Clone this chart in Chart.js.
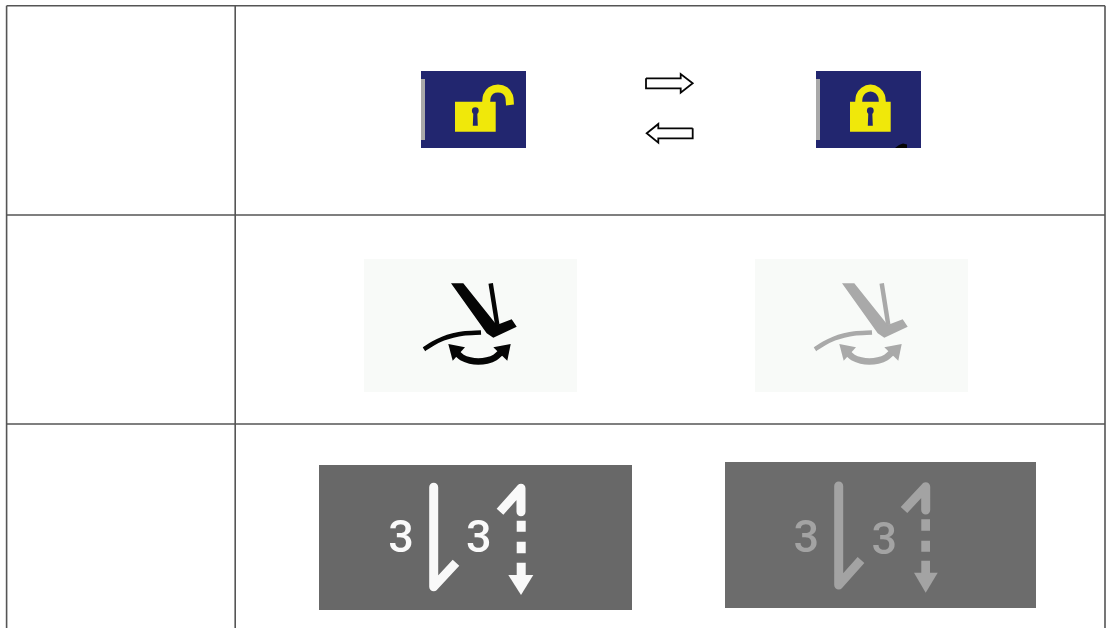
<!DOCTYPE html>
<html>
<head>
<meta charset="utf-8">
<script src="https://cdn.jsdelivr.net/npm/chart.js@4"></script>
<style>
html, body { margin: 0; padding: 0; background: #fff; }
canvas { display: block; }
</style>
</head>
<body>
<canvas id="tableChart" width="1107" height="628"></canvas>
<script>
// table rules
const columnX = [6.6, 235.2, 1105];
const rowY = [5.8, 215, 424];
const tableBottom = 628;

// row 1: padlocks
const navyLeft = [[421, 71], [526, 71], [526, 148], [421, 148]];
const navyRight = [[816, 71], [921, 71], [921, 148], [816, 148]];
const barLeft = [[421, 79], [425, 79], [425, 140], [421, 140]];
const barRight = [[816, 79], [820, 79], [820, 140], [816, 140]];
const bodyOpen = [[455, 101.7], [495.7, 101.7], [495.7, 131.7], [455, 131.7]];
const bodyShut = [[850, 101.7], [890.7, 101.7], [890.7, 131.7], [850, 131.7]];
const shackleOpen = [[486, 104], [487, 96], [491, 90.5], [498, 88.5], [505, 90.5], [509, 96], [510, 105]];
const shackleShut = [[858.5, 104], [859.5, 96], [863.5, 90.5], [870.5, 88], [877.5, 90.5], [881.5, 96], [882.5, 104]];
const keyDotOpen = [[475.3, 110.7]];
const keyDotShut = [[870.3, 110.7]];
const keyStemOpen = [[473.3, 113], [477.3, 113], [477.8, 125.7], [472.8, 125.7]];
const keyStemShut = [[868.3, 113], [872.3, 113], [872.8, 125.7], [867.8, 125.7]];
const blackNick = [[895, 148], [899, 145], [903, 143.5], [907, 144.5], [907, 148]];
const arrowRight = [[646, 78.3], [680.7, 78.3], [680.7, 74], [692.7, 83.3], [680.7, 92.7], [680.7, 88.3], [646, 88.3], [646, 78.3]];
const arrowLeft = [[692.7, 128.3], [658.3, 128.3], [658.3, 124], [646.7, 133.3], [658.3, 142.7], [658.3, 138.3], [692.7, 138.3], [692.7, 128.3]];

// row 2: presser symbols
const paleLeft = [[364, 259], [577, 259], [577, 392], [364, 392]];
const paleRight = [[755, 259], [968, 259], [968, 392], [755, 392]];
const bladeA = [[451, 283.3], [463.3, 283.3], [496.7, 325], [511.7, 319.3], [516.7, 326.7], [493.3, 337.7], [486.7, 333.3]];
const needleA = [[490.7, 283.3], [497.3, 325]];
const clothA = [[424, 349.3], [433, 343.5], [443.3, 338.5], [453, 335.5], [463.3, 333.5], [481, 332.5]];
const swingA = [[455, 351.5], [462, 357.5], [470, 360.5], [478.3, 361.5], [487, 360.5], [495, 357.5], [502, 351.5]];
const headLA = [[448.3, 344], [465, 347.3], [452.7, 360.7]];
const headRA = [[510.7, 344], [493.3, 347.3], [507.3, 360.7]];
const bladeB = [[842, 283.3], [854.3, 283.3], [887.7, 325], [902.7, 319.3], [907.7, 326.7], [884.3, 337.7], [877.7, 333.3]];
const needleB = [[881.7, 283.3], [888.3, 325]];
const clothB = [[815, 349.3], [824, 343.5], [834.3, 338.5], [844, 335.5], [854.3, 333.5], [872, 332.5]];
const swingB = [[846, 351.5], [853, 357.5], [861, 360.5], [869.3, 361.5], [878, 360.5], [886, 357.5], [893, 351.5]];
const headLB = [[839.3, 344], [856, 347.3], [843.7, 360.7]];
const headRB = [[901.7, 344], [884.3, 347.3], [898.3, 360.7]];

// row 3: thread tension symbols
const greyLeft = [[319, 465], [632, 465], [632, 610], [319, 610]];
const greyRight = [[725, 462], [1036, 462], [1036, 608], [725, 608]];
const downA = [[433.7, 487.3], [433.7, 586.7], [456, 562.7]];
const upA = [[500, 511.7], [521, 488.3], [521, 511.7]];
const dash1A = [[516.7, 520.7], [525.7, 520.7], [525.7, 531.7], [516.7, 531.7]];
const dash2A = [[516.7, 541.7], [525.7, 541.7], [525.7, 553.3], [516.7, 553.3]];
const dash3A = [[516.7, 562.7], [525.7, 562.7], [525.7, 576.7], [516.7, 576.7]];
const tipA = [[508.3, 575], [533.3, 575], [521, 595]];
const downB = [[838.7, 486], [838.7, 585], [861, 560]];
const upB = [[904, 510], [925.7, 486.7], [925.7, 510]];
const dash1B = [[921.3, 519.3], [930, 519.3], [930, 530.7], [921.3, 530.7]];
const dash2B = [[921.3, 540.7], [930, 540.7], [930, 551.7], [921.3, 551.7]];
const dash3B = [[921.3, 560.7], [930, 560.7], [930, 573.3], [921.3, 573.3]];
const tipB = [[914, 572.7], [937.7, 572.7], [925.7, 592.7]];

const digitLabels = ['3', '3', '3', '3'];
const digitX = [401, 478.7, 806.3, 884.3];
const digitY = [552.3, 552.3, 552.3, 554];

const NAVY = '#22266f', YELLOW = '#f0e80a', RULE = '#555555', PALE = '#f8faf8';
const BLACK = '#050505', SOFT = '#a9a9a9', SLATE_A = '#686868', SLATE_B = '#6c6c6c';
const WHITE = '#f9f9f9', DIM = '#a3a3a3';
const SOFTEN = 'blur(0.5px)';

const datasets = [];

function toPoints(pts) {
    return pts.map(p => ({x: p[0], y: p[1]}));
}

function solid(pts, color) {
    datasets.push({data: toPoints(pts), showLine: true, fill: 'shape', backgroundColor: color,
        borderColor: color, borderWidth: 0, pointRadius: 0, tension: 0, clip: false});
}

function stroke(pts, color, width, curve, round) {
    datasets.push({data: toPoints(pts), showLine: true, fill: false, borderColor: color,
        borderWidth: width, pointRadius: 0, tension: curve || 0, clip: false,
        borderCapStyle: 'butt', borderJoinStyle: round ? 'round' : 'miter'});
}

function dot(pts, color, radius) {
    datasets.push({data: toPoints(pts), showLine: false, pointRadius: radius,
        pointBackgroundColor: color, pointBorderWidth: 0, clip: false});
}

// backgrounds first, later shapes paint over earlier ones
solid(navyLeft, NAVY);
solid(navyRight, NAVY);
solid(barLeft, SOFT);
solid(barRight, SOFT);
stroke(shackleOpen, YELLOW, 8, 0.3);
stroke(shackleShut, YELLOW, 7, 0.3);
solid(bodyOpen, YELLOW);
solid(bodyShut, YELLOW);
dot(keyDotOpen, NAVY, 3.4);
dot(keyDotShut, NAVY, 3.4);
solid(keyStemOpen, NAVY);
solid(keyStemShut, NAVY);
solid(blackNick, BLACK);
stroke(arrowRight, BLACK, 1.8);
stroke(arrowLeft, BLACK, 1.8);

solid(paleLeft, PALE);
solid(paleRight, PALE);
[[bladeA, needleA, clothA, swingA, headLA, headRA, BLACK],
 [bladeB, needleB, clothB, swingB, headLB, headRB, SOFT]].forEach(s => {
    solid(s[0], s[6]);
    stroke(s[1], s[6], 4.5);
    stroke(s[2], s[6], 4.5, 0.3);
    stroke(s[3], s[6], 6.5, 0.3);
    solid(s[4], s[6]);
    solid(s[5], s[6]);
});

solid(greyLeft, SLATE_A);
solid(greyRight, SLATE_B);
[[downA, upA, dash1A, dash2A, dash3A, tipA, WHITE],
 [downB, upB, dash1B, dash2B, dash3B, tipB, DIM]].forEach(s => {
    stroke(s[0], s[6], 9, 0, true);
    stroke(s[1], s[6], 9, 0, true);
    solid(s[2], s[6]);
    solid(s[3], s[6]);
    solid(s[4], s[6]);
    solid(s[5], s[6]);
});

const iconCount = datasets.length;

// table rules go on top
columnX.forEach(x => stroke([[x, rowY[0]], [x, tableBottom]], RULE, 1.6));
rowY.forEach(y => stroke([[columnX[0], y], [columnX[2], y]], RULE, 1.6));

datasets.forEach((d, i) => { d.order = datasets.length - i; });

// the icons are scaled bitmaps in the original, so they get a slight blur
const softenPlugin = {
    id: 'soften',
    beforeDatasetsDraw(chart) {
        chart.ctx.filter = SOFTEN;
    },
    afterDatasetDraw(chart, args) {
        if (args.index === iconCount - 1) chart.ctx.filter = 'none';
    }
};

const digitPlugin = {
    id: 'digits',
    afterDatasetsDraw(chart) {
        const ctx = chart.ctx;
        ctx.save();
        ctx.filter = SOFTEN;
        ctx.font = '500 45px Roboto';
        ctx.textAlign = 'center';
        ctx.textBaseline = 'alphabetic';
        digitLabels.forEach((label, i) => {
            ctx.fillStyle = i < 2 ? WHITE : DIM;
            ctx.fillText(label, chart.scales.x.getPixelForValue(digitX[i]), chart.scales.y.getPixelForValue(digitY[i]));
        });
        ctx.restore();
        ctx.filter = 'none';
    }
};

new Chart(document.getElementById('tableChart'), {
    type: 'scatter',
    data: {datasets: datasets},
    options: {
        responsive: false,
        animation: false,
        layout: {padding: 0, autoPadding: false},
        plugins: {legend: {display: false}, tooltip: {enabled: false}},
        scales: {
            x: {type: 'linear', display: false, min: 0, max: 1107},
            y: {type: 'linear', display: false, min: 0, max: 628, reverse: true}
        }
    },
    plugins: [softenPlugin, digitPlugin]
});
</script>
</body>
</html>
